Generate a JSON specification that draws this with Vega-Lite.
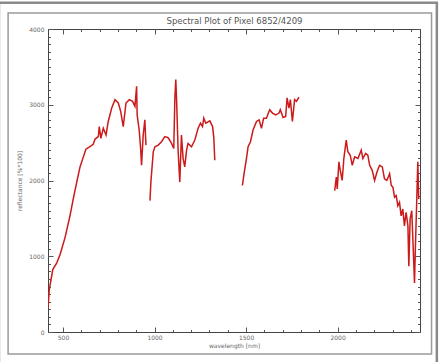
{
  "$schema": "https://vega.github.io/schema/vega-lite/v6.json",
  "width": 372,
  "height": 303,
  "autosize": {"type": "none"},
  "padding": {"left": 48, "top": 29, "right": 20, "bottom": 30},
  "background": "white",
  "config": {
    "view": {"stroke": "#444", "strokeWidth": 1},
    "axis": {"grid": false, "domain": false, "tickColor": "#555", "tickWidth": 1, "labelFont": "DejaVu Sans", "labelFontSize": 6, "labelColor": "#666", "titleFont": "DejaVu Sans", "titleFontSize": 6, "titleFontWeight": "normal", "titleColor": "#666", "format": "d"}
  },
  "data": {"values": [
    {"w":418,"r":313,"s":1},{"w":425,"r":557,"s":1},{"w":444,"r":824,"s":1},{"w":466,"r":913,"s":1},{"w":484,"r":1024,"s":1},{"w":511,"r":1246,"s":1},{"w":538,"r":1534,"s":1},{"w":556,"r":1757,"s":1},{"w":575,"r":1979,"s":1},{"w":593,"r":2179,"s":1},{"w":611,"r":2312,"s":1},{"w":625,"r":2414,"s":1},{"w":647,"r":2446,"s":1},{"w":665,"r":2477,"s":1},{"w":675,"r":2547,"s":1},{"w":693,"r":2579,"s":1},{"w":698,"r":2712,"s":1},{"w":707,"r":2557,"s":1},{"w":720,"r":2690,"s":1},{"w":735,"r":2601,"s":1},{"w":747,"r":2779,"s":1},{"w":766,"r":2957,"s":1},{"w":784,"r":3067,"s":1},{"w":802,"r":3023,"s":1},{"w":815,"r":2912,"s":1},{"w":829,"r":2712,"s":1},{"w":844,"r":3023,"s":1},{"w":862,"r":3067,"s":1},{"w":880,"r":3045,"s":1},{"w":893,"r":2979,"s":1},{"w":902,"r":3245,"s":1},{"w":905,"r":2867,"s":1},{"w":916,"r":2667,"s":1},{"w":924,"r":2423,"s":1},{"w":929,"r":2201,"s":1},{"w":938,"r":2601,"s":1},{"w":947,"r":2801,"s":1},{"w":953,"r":2467,"s":1},
    {"w":975,"r":1734,"s":2},{"w":980,"r":1979,"s":2},{"w":993,"r":2379,"s":2},{"w":1002,"r":2446,"s":2},{"w":1020,"r":2467,"s":2},{"w":1038,"r":2512,"s":2},{"w":1056,"r":2579,"s":2},{"w":1074,"r":2565,"s":2},{"w":1093,"r":2490,"s":2},{"w":1105,"r":2423,"s":2},{"w":1111,"r":3090,"s":2},{"w":1116,"r":3334,"s":2},{"w":1120,"r":3090,"s":2},{"w":1129,"r":2379,"s":2},{"w":1138,"r":1979,"s":2},{"w":1147,"r":2601,"s":2},{"w":1156,"r":2290,"s":2},{"w":1165,"r":2179,"s":2},{"w":1175,"r":2401,"s":2},{"w":1183,"r":2490,"s":2},{"w":1202,"r":2446,"s":2},{"w":1220,"r":2534,"s":2},{"w":1238,"r":2690,"s":2},{"w":1251,"r":2757,"s":2},{"w":1262,"r":2712,"s":2},{"w":1269,"r":2823,"s":2},{"w":1280,"r":2757,"s":2},{"w":1302,"r":2787,"s":2},{"w":1317,"r":2712,"s":2},{"w":1324,"r":2557,"s":2},{"w":1329,"r":2268,"s":2},
    {"w":1480,"r":1934,"s":3},{"w":1489,"r":2090,"s":3},{"w":1502,"r":2290,"s":3},{"w":1511,"r":2446,"s":3},{"w":1524,"r":2512,"s":3},{"w":1538,"r":2667,"s":3},{"w":1557,"r":2779,"s":3},{"w":1571,"r":2801,"s":3},{"w":1584,"r":2690,"s":3},{"w":1596,"r":2823,"s":3},{"w":1611,"r":2823,"s":3},{"w":1629,"r":2934,"s":3},{"w":1644,"r":2890,"s":3},{"w":1662,"r":2867,"s":3},{"w":1680,"r":2890,"s":3},{"w":1687,"r":2934,"s":3},{"w":1702,"r":2832,"s":3},{"w":1716,"r":2845,"s":3},{"w":1724,"r":3090,"s":3},{"w":1734,"r":2957,"s":3},{"w":1742,"r":3067,"s":3},{"w":1753,"r":2779,"s":3},{"w":1765,"r":3067,"s":3},{"w":1775,"r":3045,"s":3},{"w":1789,"r":3099,"s":3},
    {"w":1984,"r":1867,"s":4},{"w":1993,"r":2045,"s":4},{"w":1998,"r":1890,"s":4},{"w":2007,"r":2246,"s":4},{"w":2016,"r":2112,"s":4},{"w":2025,"r":2001,"s":4},{"w":2034,"r":2290,"s":4},{"w":2047,"r":2534,"s":4},{"w":2056,"r":2379,"s":4},{"w":2069,"r":2334,"s":4},{"w":2080,"r":2201,"s":4},{"w":2093,"r":2312,"s":4},{"w":2111,"r":2290,"s":4},{"w":2129,"r":2401,"s":4},{"w":2138,"r":2290,"s":4},{"w":2153,"r":2357,"s":4},{"w":2165,"r":2334,"s":4},{"w":2175,"r":2201,"s":4},{"w":2189,"r":2134,"s":4},{"w":2202,"r":2001,"s":4},{"w":2215,"r":2112,"s":4},{"w":2229,"r":2201,"s":4},{"w":2244,"r":2179,"s":4},{"w":2256,"r":2023,"s":4},{"w":2269,"r":2001,"s":4},{"w":2284,"r":2090,"s":4},{"w":2293,"r":1934,"s":4},{"w":2302,"r":1912,"s":4},{"w":2311,"r":1779,"s":4},{"w":2320,"r":1801,"s":4},{"w":2329,"r":1667,"s":4},{"w":2338,"r":1712,"s":4},{"w":2347,"r":1534,"s":4},{"w":2356,"r":1623,"s":4},{"w":2365,"r":1401,"s":4},{"w":2374,"r":1579,"s":4},{"w":2384,"r":1401,"s":4},{"w":2389,"r":867,"s":4},{"w":2396,"r":1490,"s":4},{"w":2405,"r":1601,"s":4},{"w":2411,"r":1223,"s":4},{"w":2420,"r":646,"s":4},{"w":2425,"r":1134,"s":4},{"w":2432,"r":1712,"s":4},{"w":2438,"r":2246,"s":4},{"w":2443,"r":1757,"s":4}
  ]},
  "resolve": {"axis": {"x": "independent", "y": "independent"}},
  "layer": [
    {
      "mark": {"type": "rect", "filled": false, "stroke": "#8a8a8a", "strokeWidth": 2.5, "clip": false},
      "data": {"values": [{}]},
      "encoding": {
        "x": {"datum": 150, "type": "quantitative", "scale": {"domain": [418, 2450], "nice": false, "zero": false}, "axis": null},
        "x2": {"datum": 2542},
        "y": {"datum": -600, "type": "quantitative", "scale": {"domain": [0, 4000], "nice": false}, "axis": null},
        "y2": {"datum": 4345}
      }
    },
    {
      "mark": {"type": "rect", "filled": false, "stroke": "#9a9a9a", "strokeWidth": 1.5, "clip": false},
      "data": {"values": [{}]},
      "encoding": {
        "x": {"datum": 200, "type": "quantitative", "scale": {"domain": [418, 2450], "nice": false, "zero": false}, "axis": null},
        "x2": {"datum": 2513},
        "y": {"datum": -290, "type": "quantitative", "scale": {"domain": [0, 4000], "nice": false}, "axis": null},
        "y2": {"datum": 4211}
      }
    },
    {
      "mark": {"type": "line", "color": "#cc1a1a", "strokeWidth": 1.5, "clip": true},
      "encoding": {
        "x": {"field": "w", "type": "quantitative", "scale": {"domain": [418, 2450], "nice": false, "zero": false},
          "axis": {"orient": "bottom", "values": [500, 1000, 1500, 2000], "offset": -5, "tickSize": 5, "labelPadding": 2, "title": "wavelength [nm]", "titlePadding": 2}},
        "y": {"field": "r", "type": "quantitative", "scale": {"domain": [0, 4000], "nice": false},
          "axis": {"orient": "left", "values": [0, 1000, 2000, 3000, 4000], "offset": -5, "tickSize": 5, "labelPadding": 4, "title": "reflectance [%*100]", "titlePadding": 6}},
        "detail": {"field": "s", "type": "nominal"}
      }
    },
    {
      "mark": {"type": "line", "strokeOpacity": 0},
      "encoding": {
        "x": {"field": "w", "type": "quantitative", "scale": {"domain": [418, 2450], "nice": false, "zero": false},
          "axis": {"orient": "bottom", "values": [500,600,700,800,900,1000,1100,1200,1300,1400,1500,1600,1700,1800,1900,2000,2100,2200,2300,2400], "offset": -2.5, "tickSize": 2.5, "labels": false, "title": null}},
        "y": {"field": "r", "type": "quantitative", "scale": {"domain": [0, 4000], "nice": false},
          "axis": {"orient": "left", "values": [0,100,200,300,400,500,600,700,800,900,1000,1100,1200,1300,1400,1500,1600,1700,1800,1900,2000,2100,2200,2300,2400,2500,2600,2700,2800,2900,3000,3100,3200,3300,3400,3500,3600,3700,3800,3900,4000], "offset": -2.5, "tickSize": 2.5, "labels": false, "title": null}},
        "detail": {"field": "s", "type": "nominal"}
      }
    },
    {
      "mark": {"type": "line", "strokeOpacity": 0},
      "encoding": {
        "x": {"field": "w", "type": "quantitative", "scale": {"domain": [418, 2450], "nice": false, "zero": false},
          "axis": {"orient": "top", "values": [500, 1000, 1500, 2000], "offset": -5, "tickSize": 5, "labels": false, "title": "Spectral Plot of Pixel 6852/4209", "titleFontSize": 8.5, "titleColor": "#555", "titlePadding": 3}},
        "y": {"field": "r", "type": "quantitative", "scale": {"domain": [0, 4000], "nice": false},
          "axis": {"orient": "right", "values": [0, 1000, 2000, 3000, 4000], "offset": -5, "tickSize": 5, "labels": false, "title": null}},
        "detail": {"field": "s", "type": "nominal"}
      }
    },
    {
      "mark": {"type": "line", "strokeOpacity": 0},
      "encoding": {
        "x": {"field": "w", "type": "quantitative", "scale": {"domain": [418, 2450], "nice": false, "zero": false},
          "axis": {"orient": "top", "values": [500,600,700,800,900,1000,1100,1200,1300,1400,1500,1600,1700,1800,1900,2000,2100,2200,2300,2400], "offset": -2.5, "tickSize": 2.5, "labels": false, "title": null}},
        "y": {"field": "r", "type": "quantitative", "scale": {"domain": [0, 4000], "nice": false},
          "axis": {"orient": "right", "values": [0,100,200,300,400,500,600,700,800,900,1000,1100,1200,1300,1400,1500,1600,1700,1800,1900,2000,2100,2200,2300,2400,2500,2600,2700,2800,2900,3000,3100,3200,3300,3400,3500,3600,3700,3800,3900,4000], "offset": -2.5, "tickSize": 2.5, "labels": false, "title": null}},
        "detail": {"field": "s", "type": "nominal"}
      }
    }
  ]
}
